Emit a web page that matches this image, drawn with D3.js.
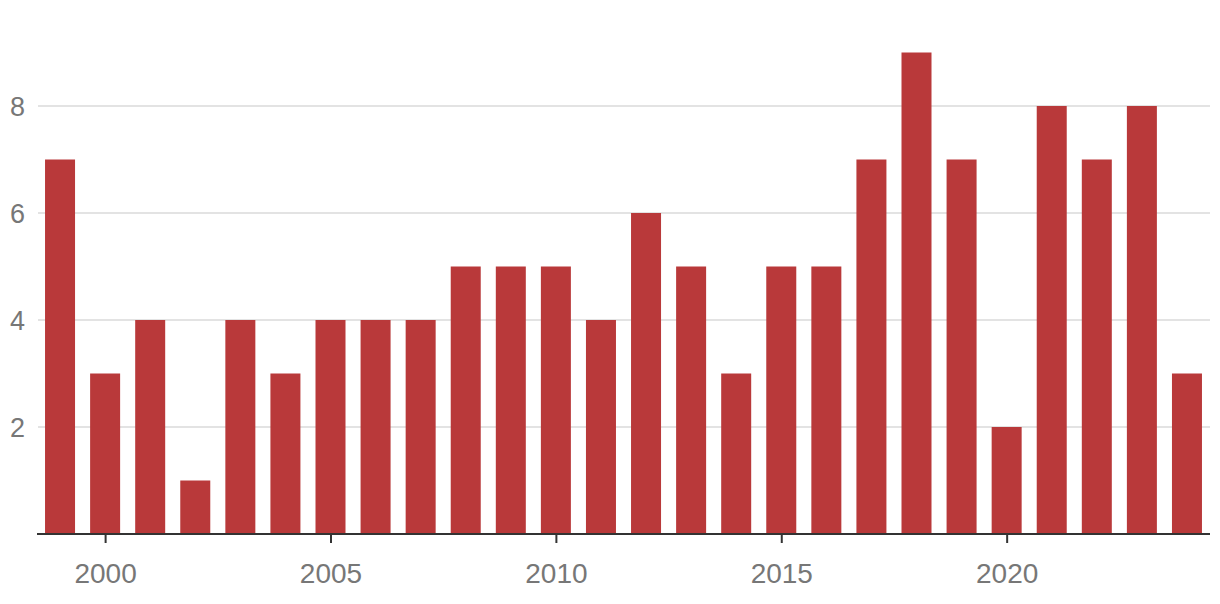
<!DOCTYPE html>
<html>
<head>
<meta charset="utf-8">
<script src="https://cdn.jsdelivr.net/npm/d3@7"></script>
<style>
  html, body { margin: 0; padding: 0; background: #fff; }
  svg { display: block; }
  text { font-family: "Liberation Sans", Arial, sans-serif; }
</style>
</head>
<body>
<svg id="chart" width="1220" height="604"></svg>
<script>
const years = [1999,2000,2001,2002,2003,2004,2005,2006,2007,2008,2009,2010,2011,2012,2013,2014,2015,2016,2017,2018,2019,2020,2021,2022,2023,2024];
const values = [7,3,4,1,4,3,4,4,4,5,5,5,4,6,5,3,5,5,7,9,7,2,8,7,8,3];
const yTicks = [2,4,6,8];
const xTicks = [2000,2005,2010,2015,2020];

const svg = d3.select("#chart");
const x = d3.scaleLinear().domain([1998.5, 2024.5]).range([37.5, 1209.5]);
const y = d3.scaleLinear().domain([0, 8]).range([534, 106]);
const barW = 30;

// gridlines
svg.append("g").selectAll("line").data(yTicks).join("line")
  .attr("x1", 38).attr("x2", 1210)
  .attr("y1", d => y(d)).attr("y2", d => y(d))
  .attr("stroke", "#e3e3e3").attr("stroke-width", 2);

// y labels
svg.append("g").selectAll("text").data(yTicks).join("text")
  .attr("x", 25).attr("y", d => y(d))
  .attr("dy", "0.36em")
  .attr("text-anchor", "end")
  .attr("font-size", 27)
  .attr("fill", "#777")
  .text(d => d);

// bars
svg.append("g").selectAll("rect").data(years).join("rect")
  .attr("x", (d) => x(d) - barW / 2)
  .attr("width", barW)
  .attr("y", (d, i) => y(values[i]))
  .attr("height", (d, i) => y(0) - y(values[i]))
  .attr("fill", "#b9393a");

// x axis
const xAxis = d3.axisBottom(x).tickValues(xTicks).tickFormat(d3.format("d")).tickSize(9).tickPadding(20).tickSizeOuter(0);
const gx = svg.append("g").attr("transform", `translate(0,${y(0)})`).call(xAxis);
gx.select(".domain").attr("stroke", "#333").attr("stroke-width", 2).attr("d", "M37,0H1210");
gx.selectAll(".tick line").attr("stroke", "#333").attr("stroke-width", 2);
gx.selectAll(".tick text").attr("font-size", 28).attr("fill", "#777").attr("font-family", "Liberation Sans, Arial, sans-serif");
</script>
</body>
</html>
